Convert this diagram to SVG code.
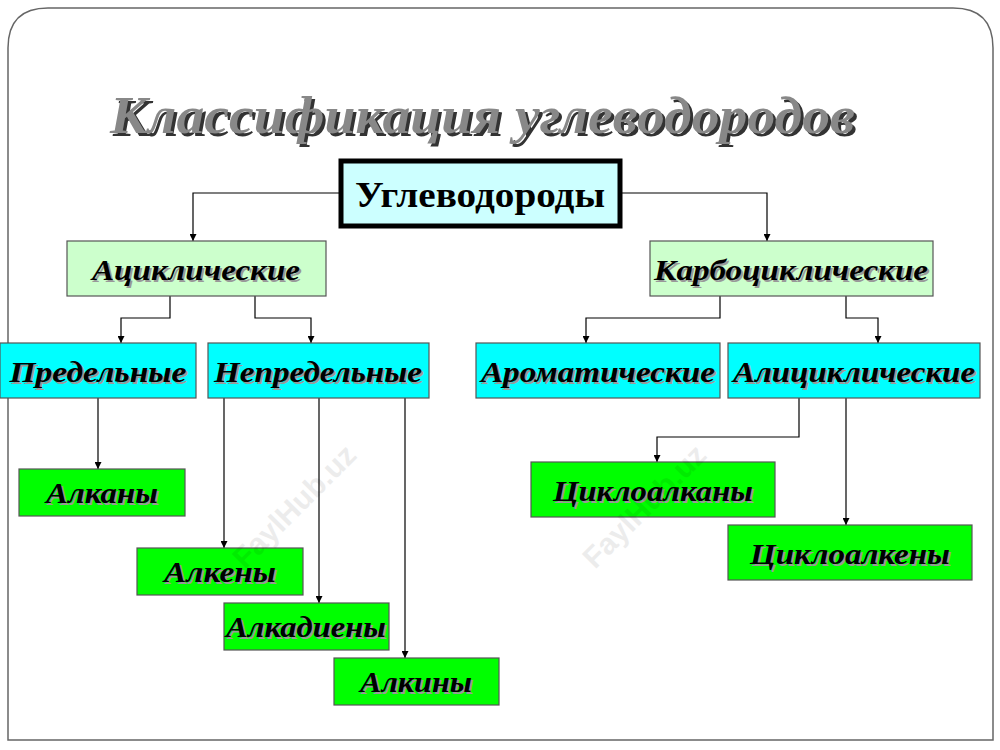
<svg xmlns="http://www.w3.org/2000/svg" width="1000" height="750" viewBox="0 0 1000 750">
<style>
.b{stroke:#555;stroke-width:1.2}
.a{fill:#ccffcc}.c{fill:#00ffff}.g{fill:#00ff00}
.t{font-family:"Liberation Serif",serif;font-weight:bold;font-style:italic;font-size:29px;text-anchor:middle}
.sh{fill:#999}
.cn{fill:none;stroke:#000;stroke-width:1.2;marker-end:url(#ar)}
.wm{font-family:"Liberation Sans",sans-serif;font-weight:bold;font-size:30px;fill:#000;opacity:0.07}
</style>
<defs><marker id="ar" viewBox="0 0 10 10" refX="10" refY="5" markerWidth="7" markerHeight="7" orient="auto" markerUnits="userSpaceOnUse"><path d="M0,0 L10,5 L0,10 z" fill="#000"/></marker></defs>
<rect width="1000" height="750" fill="#fff"/>
<path d="M8,740 V48 Q8,8 48,8 H953 Q993,8 993,48 V740 Z" fill="none" stroke="#666" stroke-width="1.5"/>
<g id="title" font-family="Liberation Serif,serif" font-weight="bold" font-style="italic" font-size="52">
<text x="113" y="136" textLength="745" lengthAdjust="spacingAndGlyphs" fill="#333">Классификация углеводородов</text>
<text x="110" y="133" textLength="745" lengthAdjust="spacingAndGlyphs" fill="#888">Классификация углеводородов</text>
</g>
<g id="connectors">
<path class="cn" d="M341,193 H193 V241"/>
<path class="cn" d="M620,193 H767 V241"/>
<path class="cn" d="M170,296 V318 H121 V343"/>
<path class="cn" d="M255,296 V318 H311 V343"/>
<path class="cn" d="M720,296 V318 H586 V343"/>
<path class="cn" d="M846,296 V318 H878 V343"/>
<path class="cn" d="M98,398 V469"/>
<path class="cn" d="M224,398 V548"/>
<path class="cn" d="M319,398 V603"/>
<path class="cn" d="M405,398 V658"/>
<path class="cn" d="M799,398 V437 H657 V462"/>
<path class="cn" d="M846,398 V525"/>
</g>
<g id="root"><rect x="341" y="161" width="279" height="65" fill="#ccffff" stroke="#000" stroke-width="5"/>
<text x="480" y="207" font-family="Liberation Serif,serif" font-weight="bold" font-size="35" text-anchor="middle" textLength="250" lengthAdjust="spacingAndGlyphs">Углеводороды</text></g>
<g id="acyc"><rect class="a b" x="67" y="241" width="259" height="55"/><text class="t sh" x="198" y="282" textLength="208" lengthAdjust="spacingAndGlyphs">Ациклические</text><text class="t" x="196" y="280" textLength="208" lengthAdjust="spacingAndGlyphs">Ациклические</text></g>
<g id="carbo"><rect class="a b" x="650" y="241" width="283" height="55"/><text class="t sh" x="793" y="282" textLength="274" lengthAdjust="spacingAndGlyphs">Карбоциклические</text><text class="t" x="791" y="280" textLength="274" lengthAdjust="spacingAndGlyphs">Карбоциклические</text></g>
<g id="pred"><rect class="c b" x="0" y="343" width="196" height="55"/><text class="t sh" x="100" y="384" textLength="177" lengthAdjust="spacingAndGlyphs">Предельные</text><text class="t" x="98" y="382" textLength="177" lengthAdjust="spacingAndGlyphs">Предельные</text></g>
<g id="nepred"><rect class="c b" x="208" y="343" width="221" height="55"/><text class="t sh" x="320" y="384" textLength="208" lengthAdjust="spacingAndGlyphs">Непредельные</text><text class="t" x="318" y="382" textLength="208" lengthAdjust="spacingAndGlyphs">Непредельные</text></g>
<g id="arom"><rect class="c b" x="476" y="343" width="244" height="55"/><text class="t sh" x="600" y="384" textLength="234" lengthAdjust="spacingAndGlyphs">Ароматические</text><text class="t" x="598" y="382" textLength="234" lengthAdjust="spacingAndGlyphs">Ароматические</text></g>
<g id="alicyc"><rect class="c b" x="728" y="343" width="252" height="55"/><text class="t sh" x="856" y="384" textLength="242" lengthAdjust="spacingAndGlyphs">Алициклические</text><text class="t" x="854" y="382" textLength="242" lengthAdjust="spacingAndGlyphs">Алициклические</text></g>
<g id="alkany"><rect class="g b" x="19" y="469" width="166" height="47"/><text class="t sh" x="104" y="505" textLength="112" lengthAdjust="spacingAndGlyphs">Алканы</text><text class="t" x="102" y="503" textLength="112" lengthAdjust="spacingAndGlyphs">Алканы</text></g>
<g id="alkeny"><rect class="g b" x="137" y="548" width="166" height="47"/><text class="t sh" x="222" y="584" textLength="112" lengthAdjust="spacingAndGlyphs">Алкены</text><text class="t" x="220" y="582" textLength="112" lengthAdjust="spacingAndGlyphs">Алкены</text></g>
<g id="alkadieny"><rect class="g b" x="224" y="603" width="165" height="47"/><text class="t sh" x="308" y="639" textLength="160" lengthAdjust="spacingAndGlyphs">Алкадиены</text><text class="t" x="306" y="637" textLength="160" lengthAdjust="spacingAndGlyphs">Алкадиены</text></g>
<g id="alkiny"><rect class="g b" x="334" y="658" width="165" height="47"/><text class="t sh" x="418" y="694" textLength="112" lengthAdjust="spacingAndGlyphs">Алкины</text><text class="t" x="416" y="692" textLength="112" lengthAdjust="spacingAndGlyphs">Алкины</text></g>
<g id="cycloalkany"><rect class="g b" x="531" y="462" width="244" height="55"/><text class="t sh" x="655" y="503" textLength="200" lengthAdjust="spacingAndGlyphs">Циклоалканы</text><text class="t" x="653" y="501" textLength="200" lengthAdjust="spacingAndGlyphs">Циклоалканы</text></g>
<g id="cycloalkeny"><rect class="g b" x="728" y="525" width="244" height="55"/><text class="t sh" x="852" y="566" textLength="200" lengthAdjust="spacingAndGlyphs">Циклоалкены</text><text class="t" x="850" y="564" textLength="200" lengthAdjust="spacingAndGlyphs">Циклоалкены</text></g>
<g id="watermarks">
<text class="wm" transform="translate(245,570) rotate(-45)">FaylHub.uz</text>
<text class="wm" transform="translate(595,570) rotate(-45)">FaylHub.uz</text>
</g>
</svg>
